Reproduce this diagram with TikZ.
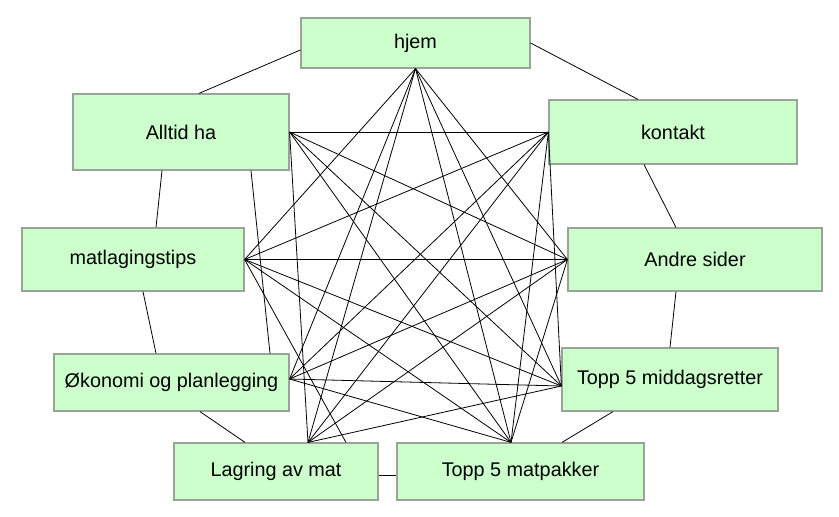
\documentclass[tikz,border=0pt]{standalone}
\usepackage{fontspec}
\setmainfont{Liberation Sans}
\usetikzlibrary{calc}
\definecolor{boxfill}{HTML}{CCFFCC}
\definecolor{boxline}{HTML}{9AA39A}
\begin{document}
\begin{tikzpicture}[x=1pt,y=-1pt,
  box/.style={draw=boxline, fill=boxfill, line width=1.2pt, inner sep=0pt,
    font=\fontsize{19.8}{24}\selectfont, anchor=center},
  link/.style={draw=black, line width=0.8pt}]
\useasboundingbox[fill=white] (0,0) rectangle (839,517);
% boxes
\node[box, minimum width=229pt, minimum height=50pt] (H) at (415.5,43) {hjem};
\node[box, minimum width=216pt, minimum height=76pt] (Al) at (181,132) {Alltid ha};
\node[box, minimum width=248pt, minimum height=64pt] (K) at (673,132) {kontakt};
\node[box, minimum width=222pt, minimum height=63pt] (T) at (133,259.5) {matlagingstips};
\node[box, minimum width=254pt, minimum height=63pt] (A) at (695,259.5) {Andre sider};
\node[box, minimum width=235pt, minimum height=57pt] (O) at (171.5,382.5) {Økonomi og planlegging};
\node[box, minimum width=216pt, minimum height=63pt] (M) at (670,379.5) {Topp 5 middagsretter};
\node[box, minimum width=204pt, minimum height=57pt] (L) at (276,471.5) {Lagring av mat};
\node[box, minimum width=247pt, minimum height=57pt] (P) at (520.5,471.5) {Topp 5 matpakker};
% hub points
\coordinate (Hh) at (H.south);
\coordinate (Alh) at (Al.east);
\coordinate (Kh) at (K.west);
\coordinate (Th) at (T.east);
\coordinate (Ah) at (A.west);
\coordinate (Oh) at ([yshift=3.5pt]O.east);
\coordinate (Mh) at ([yshift=-6.5pt]M.west);
\coordinate (Ph) at ([xshift=-9.5pt]P.north);
\coordinate (Lh) at ([xshift=32pt]L.north);
% outer ring
\draw[link] ([yshift=-7pt]H.west) -- ([xshift=18pt]Al.north);
\draw[link] (H.east) -- ([xshift=-35pt]K.north);
\draw[link] ([xshift=-29pt]K.south) -- ([xshift=-19pt]A.north);
\draw[link] ([xshift=-19pt]A.south) -- (M.north);
\draw[link] ([xshift=-57pt]M.south) -- ([xshift=41.5pt]P.north);
\draw[link] ([yshift=-3.5pt]L.east) -- ([yshift=-3.5pt]P.west);
\draw[link] ([xshift=-31pt]L.north) -- ([xshift=28.5pt]O.south);
\draw[link] ([xshift=-15.5pt]O.north) -- ([xshift=10pt]T.south);
\draw[link] ([xshift=23pt]T.north) -- ([xshift=-19pt]Al.south);
% special chords
\draw[link] ([xshift=70pt]Al.south) -- ([xshift=98.5pt]O.north);
\draw[link] (Th) -- ([xshift=70pt]L.north);
% hub chords
\foreach \u/\v in {Hh/Ah, Hh/Mh, Hh/Ph, Hh/Lh, Hh/Oh, Hh/Th,
  Kh/Mh, Kh/Ph, Kh/Lh, Kh/Oh, Kh/Th, Kh/Alh,
  Ah/Ph, Ah/Lh, Ah/Oh, Ah/Th, Ah/Alh,
  Mh/Lh, Mh/Oh, Mh/Th, Mh/Alh,
  Ph/Oh, Ph/Th, Ph/Alh,
  Lh/Alh}
  \draw[link] (\u) -- (\v);
\end{tikzpicture}
\end{document}
